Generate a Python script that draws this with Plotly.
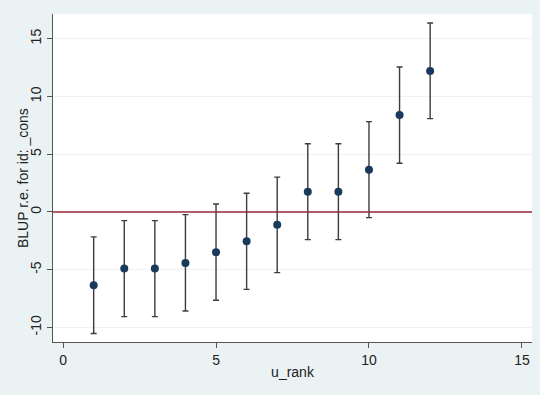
import plotly.graph_objects as go

u_rank = [1, 2, 3, 4, 5, 6, 7, 8, 9, 10, 11, 12]
blup = [-6.35, -4.9, -4.9, -4.42, -3.49, -2.54, -1.1, 1.76, 1.76, 3.66, 8.4, 12.2]
ci_lower = [-10.52, -9.06, -9.06, -8.57, -7.65, -6.7, -5.25, -2.4, -2.4, -0.49, 4.22, 8.08]
ci_upper = [-2.16, -0.75, -0.75, -0.23, 0.69, 1.62, 3.02, 5.91, 5.91, 7.82, 12.55, 16.36]

x_ticks = [0, 5, 10, 15]
y_ticks = [-10, -5, 0, 5, 10, 15]
y_tick_labels = ["-10", "-5", "0", "5", "10", "15"]

err_plus = [u - b for u, b in zip(ci_upper, blup)]
err_minus = [b - l for b, l in zip(blup, ci_lower)]

fig = go.Figure()
fig.add_trace(go.Scatter(
    x=u_rank, y=blup, mode="markers",
    marker=dict(color="#1a3a5c", size=8),
    error_y=dict(type="data", symmetric=False, array=err_plus, arrayminus=err_minus,
                 color="#3c3c3c", thickness=1.4, width=3),
    showlegend=False,
))

fig.add_shape(type="line", xref="paper", x0=0, x1=1, yref="y", y0=0, y1=0,
              line=dict(color="#9a2838", width=1.5), layer="above")

fig.add_annotation(text="BLUP r.e. for id: _cons", xref="paper", yref="paper",
                   x=0, y=0.5, xanchor="center", yanchor="middle", xshift=-30,
                   textangle=-90, showarrow=False, font=dict(size=14, color="#222222"))

fig.update_layout(
    width=540, height=395,
    margin=dict(l=53, r=8, t=14, b=53),
    paper_bgcolor="#eaf2f3",
    plot_bgcolor="#ffffff",
    font=dict(family="Liberation Sans, Arial, sans-serif", size=14, color="#222222"),
    xaxis=dict(
        range=[-0.33, 15.33], tickvals=x_ticks, showgrid=False, zeroline=False,
        showline=True, linecolor="#555555", linewidth=1, automargin=False,
        ticks="outside", ticklen=5, tickcolor="#555555",
        title=dict(text="u_rank", font=dict(size=14), standoff=0),
    ),
    yaxis=dict(
        range=[-11.26, 17.14], tickvals=y_ticks, ticktext=y_tick_labels,
        showgrid=True, gridcolor="#eef2f2",
        gridwidth=1, zeroline=False, automargin=False,
        showline=True, linecolor="#555555", linewidth=1,
        ticks="outside", ticklen=5, tickcolor="#555555", tickangle=-90,
    ),
)

fig.write_html("out.html", config={"displayModeBar": False},
               post_script="document.body.style.margin='0';document.body.style.background='#eaf2f3';")
